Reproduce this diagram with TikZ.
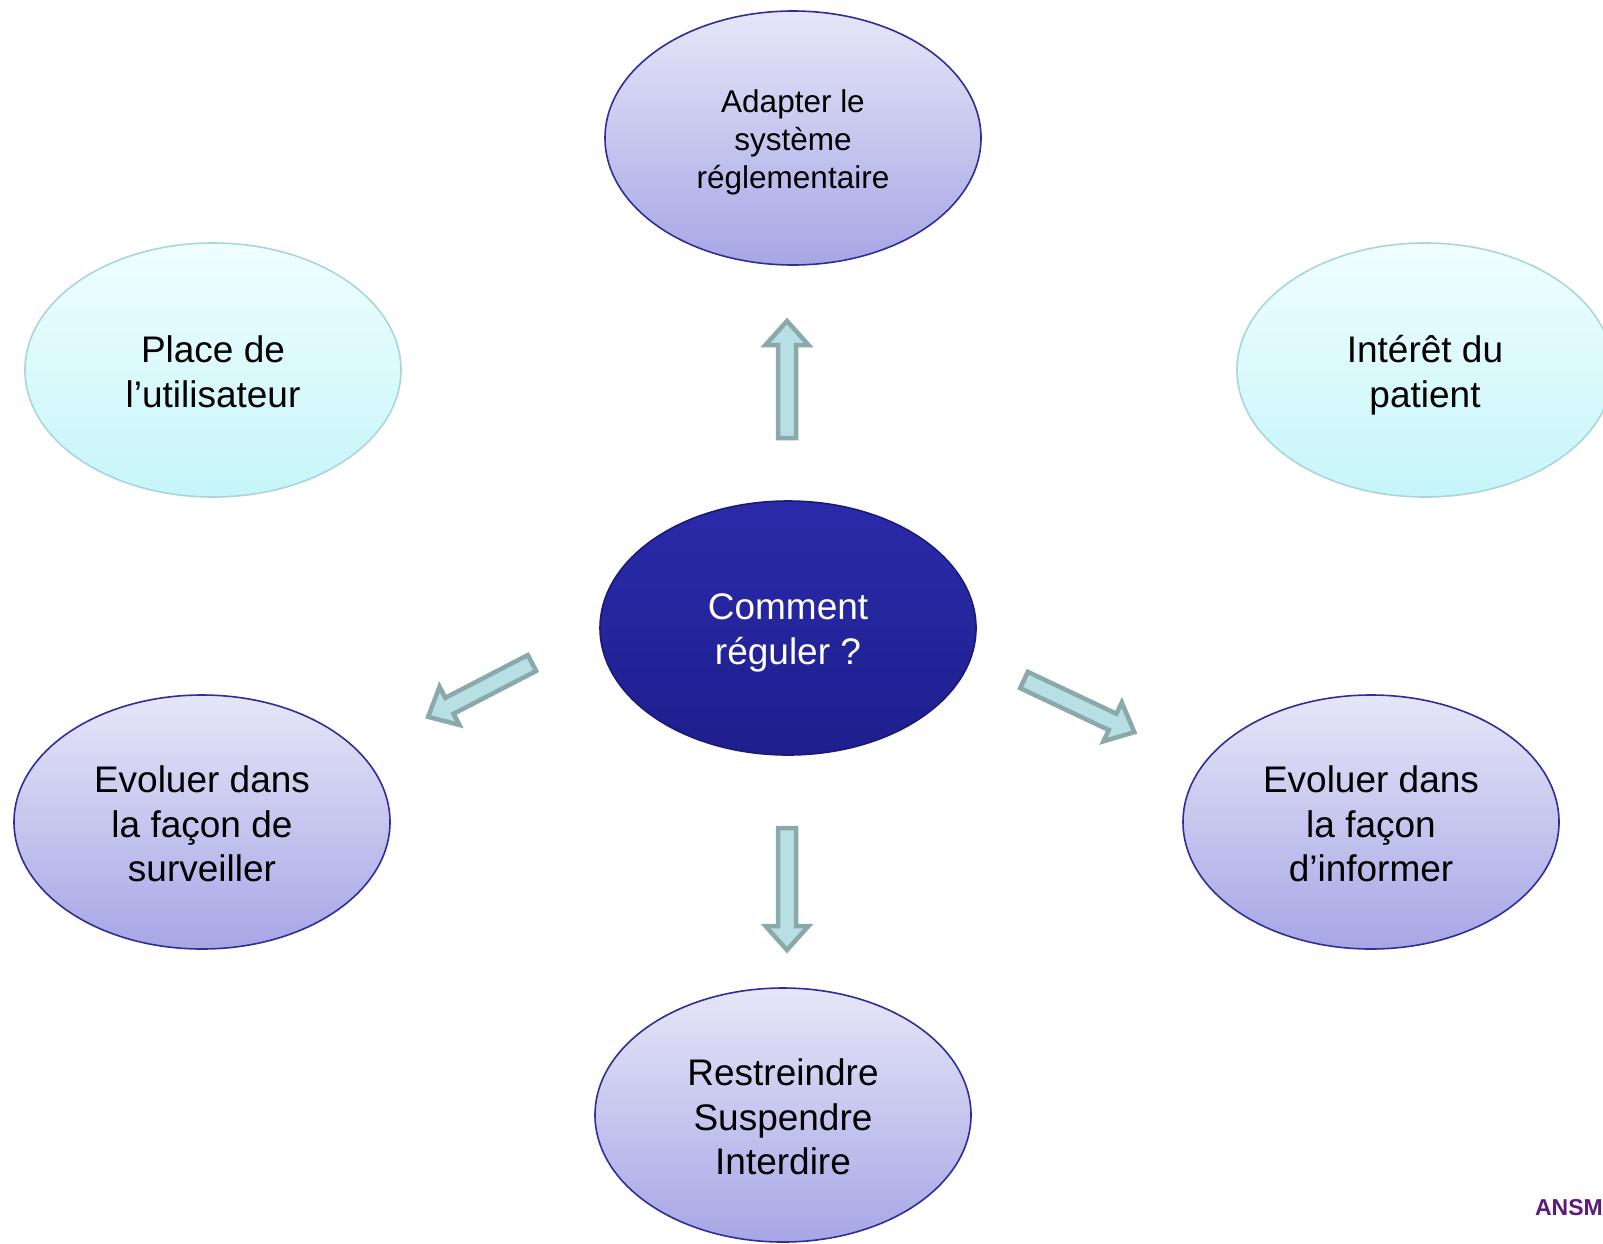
\documentclass[tikz,border=0pt]{standalone}
\usepackage{fontspec}
\setmainfont{Liberation Sans}
\usetikzlibrary{shapes.geometric}
\definecolor{purpTop}{HTML}{E6E6F8}
\definecolor{purpBot}{HTML}{A6A6E6}
\definecolor{purpLine}{HTML}{2E2E96}
\definecolor{cyanTop}{HTML}{F0FEFE}
\definecolor{cyanBot}{HTML}{C6F5F9}
\definecolor{cyanLine}{HTML}{A8D6DA}
\definecolor{coreTop}{HTML}{2B2BAA}
\definecolor{coreBot}{HTML}{1E1E8E}
\definecolor{coreLine}{HTML}{1A1A78}
\definecolor{arrFill}{HTML}{B8DFE3}
\definecolor{arrLine}{HTML}{8AA9AB}
\definecolor{ansm}{HTML}{5C1A7E}
\tikzset{
  bubble/.style={ellipse, minimum width=376pt, minimum height=254pt, inner sep=0pt, line width=1.6pt},
  purp/.style={bubble, top color=purpTop, bottom color=purpBot, draw=purpLine},
  cyanb/.style={bubble, top color=cyanTop, bottom color=cyanBot, draw=cyanLine},
  core/.style={bubble, top color=coreTop, bottom color=coreBot, draw=coreLine},
  bigtxt/.style={align=center, inner sep=0pt, font=\fontsize{37}{44.5}\selectfont},
  smalltxt/.style={align=center, inner sep=0pt, font=\fontsize{31.5}{38}\selectfont},
  barrowsty/.style={fill=arrFill, draw=arrLine, line width=4.5pt, line join=miter},
}
\newcommand\barrow[3]{\draw[barrowsty,shift={(#1)},rotate=#2] (0,-9) -- ({#3-24},-9) -- ({#3-24},-21.5) -- (#3,0) -- ({#3-24},21.5) -- ({#3-24},9) -- (0,9) -- cycle;}
\begin{document}
\begin{tikzpicture}[x=1pt,y=-1pt]
\useasboundingbox (0,0) rectangle (1603,1243);
\fill[white] (0,0) rectangle (1603,1243);
\node[purp] (top) at (793,138) {};
\node[cyanb] (place) at (213,370) {};
\node[cyanb] (interet) at (1425,370) {};
\node[core] (center) at (788,628) {};
\node[purp] (surv) at (202,822) {};
\node[purp] (info) at (1371,822) {};
\node[purp] (restr) at (783,1115) {};
\node[smalltxt] (toptxt) at ([yshift=-4pt]top.center) {Adapter le\\système\\réglementaire};
\node[bigtxt] (placetxt) at ([yshift=-2pt]place.center) {Place de\\l’utilisateur};
\node[bigtxt] (interettxt) at ([yshift=-5pt]interet.center) {Intérêt du\\patient};
\node[bigtxt, text=white] (centertxt) at ([yshift=-5pt]center.center) {Comment\\réguler ?};
\node[bigtxt] (survtxt) at ([yshift=-2pt]surv.center) {Evoluer dans\\la façon de\\surveiller};
\node[bigtxt] (infotxt) at ([yshift=-2pt]info.center) {Evoluer dans\\la façon\\d’informer};
\node[bigtxt] (restrtxt) at ([yshift=-2pt]restr.center) {Restreindre\\Suspendre\\Interdire};
\node[text=ansm, font=\bfseries\fontsize{23}{27}\selectfont, anchor=east, inner sep=0pt] (ansmlabel) at (1603,1208) {ANSM};
\coordinate (aup) at (787,438);
\coordinate (adown) at (787,828);
\coordinate (aleft) at (532,663);
\coordinate (aright) at (1024,680);
\barrow{aup}{90}{117}
\barrow{adown}{-90}{122}
\barrow{aleft}{207.4}{117}
\barrow{aright}{-25.3}{122}
\end{tikzpicture}
\end{document}
